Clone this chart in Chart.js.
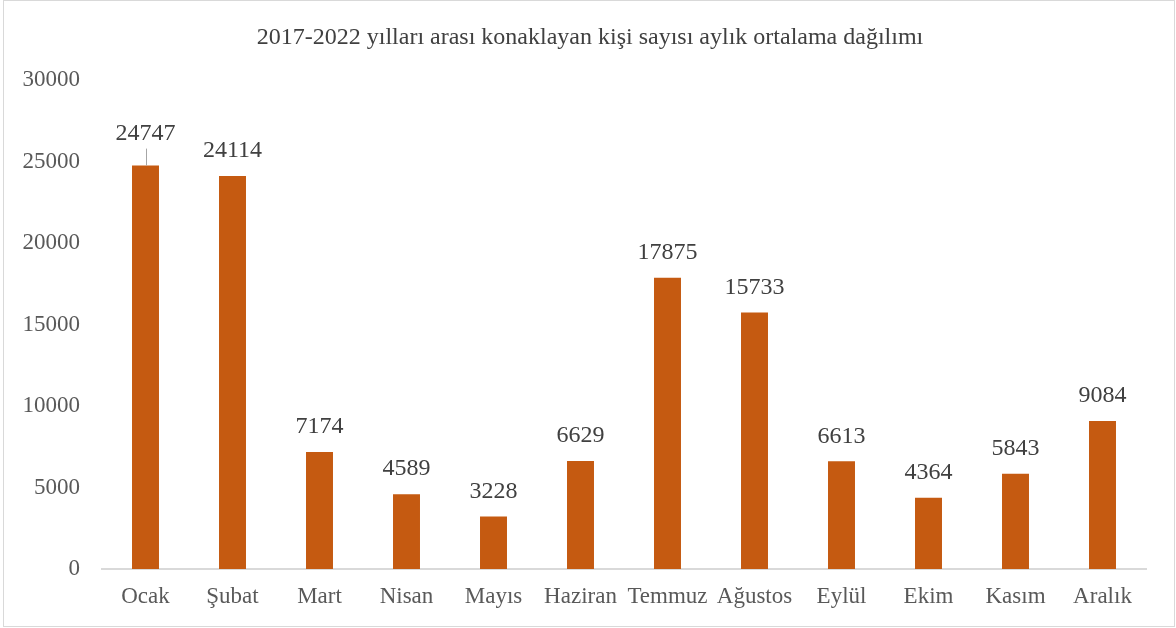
<!DOCTYPE html>
<html>
<head>
<meta charset="utf-8">
<script src="https://cdn.jsdelivr.net/npm/chart.js@4/dist/chart.umd.min.js"></script>
<style>
	body { margin: 0; background: #fff; }
	#wrap { position: relative; width: 1176px; height: 628px; }
	#frame { position: absolute; left: 3px; top: 0px; width: 1170px; height: 625px; border: 1px solid #d9d9d9; pointer-events: none; }
</style>
</head>
<body>
<div id="wrap">
	<canvas id="barChart" width="1176" height="628"></canvas>
	<div id="frame"></div>
</div>
<script>
// chart data
const chartTitle = "2017-2022 yılları arası konaklayan kişi sayısı aylık ortalama dağılımı";
const months = ["Ocak", "Şubat", "Mart", "Nisan", "Mayıs", "Haziran", "Temmuz", "Ağustos", "Eylül", "Ekim", "Kasım", "Aralık"];
const guests = [24747, 24114, 7174, 4589, 3228, 6629, 17875, 15733, 6613, 4364, 5843, 9084];
const yTicks = [0, 5000, 10000, 15000, 20000, 25000, 30000];

const serif = "'Liberation Serif', 'Times New Roman', serif";

//title centred on the whole canvas, not only the plot box
const centredTitle = {
	id: "centredTitle",
	afterDraw(chart) {
		let ctx = chart.ctx;
		ctx.save();
		ctx.font = "24px " + serif;
		ctx.fillStyle = "#404040";
		ctx.textAlign = "center";
		ctx.textBaseline = "middle";
		ctx.fillText(chartTitle, chart.width / 2 + 2, 38);
		ctx.restore();
	}
};

//value labels drawn above each bar, first one lifted with a leader line
const valueLabels = {
	id: "valueLabels",
	afterDatasetsDraw(chart) {
		let ctx = chart.ctx;
		let meta = chart.getDatasetMeta(0);
		ctx.save();
		ctx.font = "24px " + serif;
		ctx.fillStyle = "#404040";
		ctx.textAlign = "center";
		ctx.textBaseline = "middle";
		meta.data.forEach((bar, i) => {
			let lift = (i === 0) ? 32 : 25;
			ctx.fillText(String(guests[i]), bar.x, bar.y - lift);
			if (i === 0) {
				ctx.strokeStyle = "#a6a6a6";
				ctx.lineWidth = 1;
				ctx.beginPath();
				ctx.moveTo(Math.round(bar.x) + 0.5, bar.y - lift + 15);
				ctx.lineTo(Math.round(bar.x) + 0.5, bar.y);
				ctx.stroke();
			}
		});
		ctx.restore();
	}
};

let ctxB = document.getElementById("barChart").getContext("2d");
let myBarChart = new Chart(ctxB, {
	type: "bar",
	data: {
		labels: months,
		datasets: [{
			data: guests,
			backgroundColor: "#C55A11",
			borderWidth: 0,
			categoryPercentage: 1,
			barPercentage: 0.31
		}]
	},
	options: {
		responsive: false,
		animation: false,
		layout: { padding: { left: 0, right: 30, top: 80, bottom: 0 } },
		plugins: {
			legend: { display: false },
			tooltip: { enabled: false },
			title: { display: false }
		},
		scales: {
			x: {
				grid: { display: false, drawTicks: false },
				border: { display: true, color: "#d9d9d9", width: 2 },
				ticks: {
					color: "#595959",
					font: { family: serif, size: 23 },
					padding: 14,
					maxRotation: 0,
					autoSkip: false
				},
				afterFit(scale) { scale.height = 59; }
			},
			y: {
				min: 0,
				max: 30000,
				afterBuildTicks(scale) { scale.ticks = yTicks.map(v => ({ value: v })); },
				grid: { display: false, drawTicks: false },
				border: { display: false },
				ticks: {
					color: "#595959",
					font: { family: serif, size: 23 },
					padding: 22,
					callback: (value) => String(value)
				},
				afterFit(scale) { scale.width = 102; }
			}
		}
	},
	plugins: [valueLabels, centredTitle]
});
</script>
</body>
</html>
